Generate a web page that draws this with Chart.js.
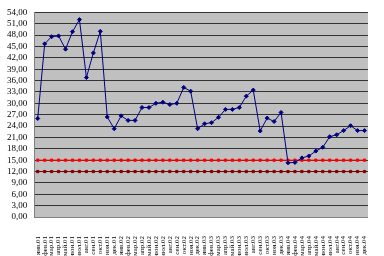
<!DOCTYPE html>
<html>
<head>
<meta charset="utf-8">
<script src="https://cdn.jsdelivr.net/npm/chart.js@4/dist/chart.umd.min.js"></script>
<style>
  body { margin: 0; background: #fff; }
  #wrap { width: 384px; height: 256px; position: relative; }
</style>
</head>
<body>
<div id="wrap"><canvas id="chart"></canvas></div>
<script>
// month labels, Jan 2001 - Dec 2004
const months = [
    'янв.01', 'фев.01', 'мар.01', 'апр.01', 'май.01', 'июн.01', 'июл.01', 'авг.01', 'сен.01', 'окт.01', 'ноя.01', 'дек.01',
    'янв.02', 'фев.02', 'мар.02', 'апр.02', 'май.02', 'июн.02', 'июл.02', 'авг.02', 'сен.02', 'окт.02', 'ноя.02', 'дек.02',
    'янв.03', 'фев.03', 'мар.03', 'апр.03', 'май.03', 'июн.03', 'июл.03', 'авг.03', 'сен.03', 'окт.03', 'ноя.03', 'дек.03',
    'янв.04', 'фев.04', 'мар.04', 'апр.04', 'май.04', 'июн.04', 'июл.04', 'авг.04', 'сен.04', 'окт.04', 'ноя.04', 'дек.04'
];

// main series
const values = [
    26.0, 45.7, 47.6, 47.8, 44.3, 48.9, 52.1, 36.8, 43.3, 49.0, 26.4, 23.3,
    26.7, 25.5, 25.5, 28.9, 28.9, 30.0, 30.3, 29.7, 30.0, 34.2, 33.2, 23.3,
    24.6, 24.9, 26.3, 28.4, 28.4, 28.9, 31.9, 33.5, 22.7, 26.1, 25.2, 27.6,
    14.3, 14.4, 15.6, 16.1, 17.4, 18.4, 21.2, 21.7, 22.8, 24.1, 22.8, 22.8
];

// limit lines
const upperLimit = [
    15, 15, 15, 15, 15, 15, 15, 15, 15, 15, 15, 15,
    15, 15, 15, 15, 15, 15, 15, 15, 15, 15, 15, 15,
    15, 15, 15, 15, 15, 15, 15, 15, 15, 15, 15, 15,
    15, 15, 15, 15, 15, 15, 15, 15, 15, 15, 15, 15
];
const lowerLimit = [
    12, 12, 12, 12, 12, 12, 12, 12, 12, 12, 12, 12,
    12, 12, 12, 12, 12, 12, 12, 12, 12, 12, 12, 12,
    12, 12, 12, 12, 12, 12, 12, 12, 12, 12, 12, 12,
    12, 12, 12, 12, 12, 12, 12, 12, 12, 12, 12, 12
];

const yMin = 0, yMax = 54, yStep = 3;

// gray plot area like Excel
const plotBg = {
    id: 'plotBg',
    beforeDraw(chart) {
        const a = chart.chartArea;
        const ctx = chart.ctx;
        ctx.save();
        ctx.fillStyle = '#c0c0c0';
        ctx.fillRect(a.left, a.top, a.right - a.left, a.bottom - a.top);
        ctx.restore();
    }
};

new Chart(document.getElementById('chart'), {
    type: 'line',
    data: {
        labels: months,
        datasets: [
            {
                data: values,
                borderColor: '#000080',
                backgroundColor: '#000080',
                borderWidth: 1,
                pointStyle: 'rectRot',
                pointRadius: 2,
                tension: 0
            },
            {
                data: upperLimit,
                borderColor: '#ff0000',
                backgroundColor: '#ff0000',
                borderWidth: 1,
                pointStyle: 'rect',
                pointRadius: 1.6
            },
            {
                data: lowerLimit,
                borderColor: '#800000',
                backgroundColor: '#800000',
                borderWidth: 1,
                pointStyle: 'rect',
                pointRadius: 1.6
            }
        ]
    },
    options: {
        responsive: true,
        maintainAspectRatio: false,
        animation: false,
        layout: { padding: { top: 8, right: 11, bottom: 0, left: 0 } },
        plugins: { legend: { display: false }, tooltip: { enabled: false } },
        scales: {
            x: {
                offset: true,
                grid: { display: false },
                border: { color: '#808080' },
                afterFit: s => { s.height = 39; },
                ticks: {
                    autoSkip: false,
                    minRotation: 90,
                    maxRotation: 90,
                    padding: 11,
                    color: '#000',
                    font: { family: 'Liberation Serif', size: 7 }
                }
            },
            y: {
                min: yMin,
                max: yMax,
                grid: { color: '#333', lineWidth: 1, drawTicks: false },
                border: { color: '#808080' },
                ticks: {
                    stepSize: yStep,
                    autoSkip: false,
                    padding: 7,
                    color: '#000',
                    font: { family: 'Liberation Serif', size: 9 },
                    callback: v => v.toFixed(2).replace('.', ',')
                }
            }
        }
    },
    plugins: [plotBg]
});
</script>
</body>
</html>
